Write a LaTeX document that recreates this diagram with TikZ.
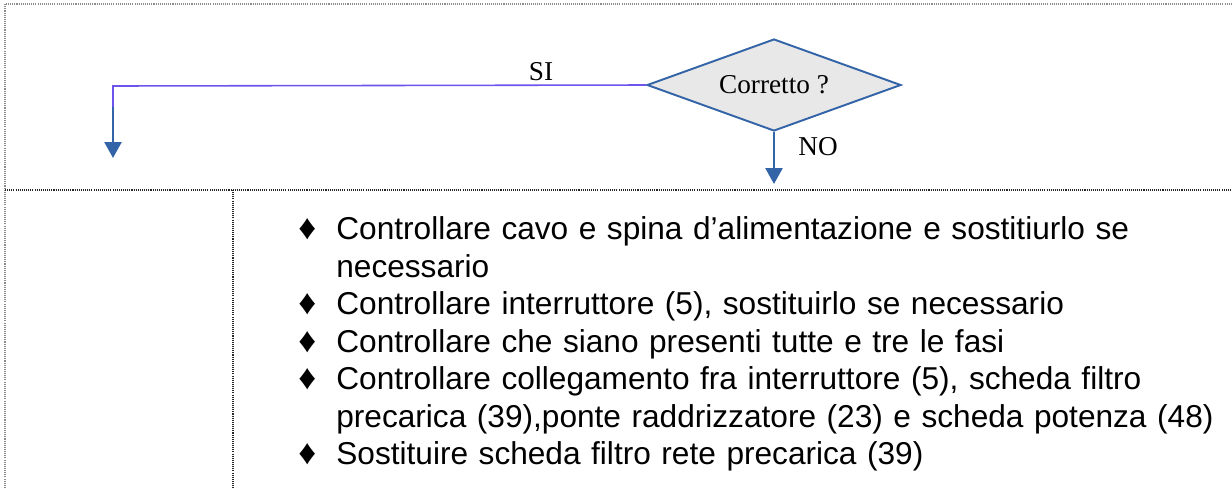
\documentclass[tikz,border=0pt]{standalone}
\usepackage{fontspec}
\setmainfont{Liberation Serif}
\newfontfamily\arialfont{Liberation Sans}
\usetikzlibrary{shapes.geometric,arrows.meta}
\definecolor{flowblue}{RGB}{52,100,168}
\definecolor{flowviolet}{RGB}{108,84,236}
\definecolor{flowgray}{RGB}{232,232,232}
\definecolor{rulegray}{RGB}{140,140,140}

\begin{document}
\begin{tikzpicture}[x=0.02cm,y=-0.02cm,
    decision/.style={diamond, draw=flowblue, line width=1.1pt, fill=flowgray,
      aspect=2.76, minimum width=5.08cm, minimum height=1.84cm, inner sep=0pt,
      font=\fontsize{15.5pt}{18pt}\selectfont},
    answer/.style={font=\fontsize{15.5pt}{18pt}\selectfont},
    flowarrow/.style={draw=flowblue, line width=1.5pt, -{Triangle[width=0.34cm,length=0.32cm]}},
    siline/.style={draw=flowviolet, line width=0.9pt},
    frame/.style={draw=rulegray, line width=1.2pt, dash pattern=on 0.6pt off 0.6pt},
    divider/.style={draw=black!85, line width=0.6pt, dash pattern=on 0.6pt off 0.6pt}]
    \useasboundingbox (0,0) rectangle (1232,488);

    % Table lines
    \draw[frame] (5,488) -- (5,4) -- (1232,4);
    \draw[divider] (5,190) -- (1232,190);
    \draw[divider] (233,190) -- (233,488);

    % Decision
    \node[decision] (check) at (774,85) {\raisebox{-3pt}{Corretto ?}};
    \node[answer] (si) at (541,72) {SI};
    \node[answer] (no) at (818,147) {NO};
    \coordinate (siturn) at (113,86);
    \coordinate (siend) at (113,136);
    \coordinate (sistart) at (113,107);
    \coordinate (sitip) at (113,158);
    \coordinate (notip) at (774,184);

    % Connections
    \draw[siline] (check.west) -- (siturn) -- (siend);
    \draw[flowarrow] (sistart) -- (sitip);
    \draw[flowarrow] (check.south) -- (notip);

    % Checks
    \node[anchor=north west, inner sep=0pt, text width=18.6cm,
      font=\arialfont\fontsize{18pt}{21.34pt}\selectfont] (checks) at (298,202) {%
      \raggedright
      \begin{list}{\makebox[0.76cm][l]{\fontsize{20pt}{20pt}\selectfont ♦}}{%
        \setlength{\leftmargin}{0.76cm}\setlength{\labelwidth}{0.76cm}%
        \setlength{\labelsep}{0pt}\setlength{\itemsep}{0pt}\setlength{\parsep}{0pt}%
        \setlength{\topsep}{0pt}\setlength{\partopsep}{0pt}\setlength{\itemindent}{0pt}}
      \item Controllare cavo e spina d’alimentazione e sostitiurlo se\newline necessario
      \item Controllare interruttore (5), sostituirlo se necessario
      \item Controllare che siano presenti tutte e tre le fasi
      \item Controllare collegamento fra interruttore (5), scheda filtro\newline precarica (39),ponte raddrizzatore (23) e scheda potenza (48)
      \item Sostituire scheda filtro rete precarica (39)
      \end{list}};
\end{tikzpicture}
\end{document}
